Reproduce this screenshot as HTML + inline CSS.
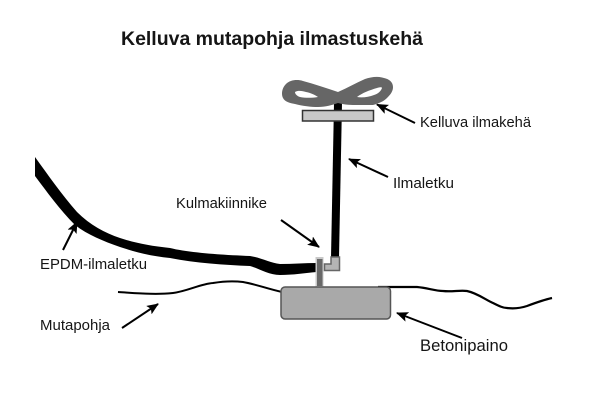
<!DOCTYPE html>
<html><head><meta charset="utf-8"><style>
html,body{margin:0;padding:0;background:#fff;width:600px;height:405px;overflow:hidden}
svg{display:block}
text{font-family:"Liberation Sans",sans-serif;fill:#151515}
</style></head><body>
<svg width="600" height="405" viewBox="0 0 600 405" xmlns="http://www.w3.org/2000/svg">
<defs><marker id="a" markerWidth="12" markerHeight="10" refX="11" refY="5" orient="auto" markerUnits="userSpaceOnUse"><path d="M0 0L12 5L0 10L2.500 5Z" fill="#000"/></marker></defs>
<text x="121" y="45" font-size="19.500" font-weight="bold" textLength="302" lengthAdjust="spacing">Kelluva mutapohja ilmastuskehä</text>
<!-- ground -->
<path d="M118 292C135 293 155 295 173 293C188 291 200 284 213 283C225 281 235 281 243 282C255 284 268 289 282 292" fill="none" stroke="#000" stroke-width="2"/>
<path d="M378 287C395 287 405 287 417 287C428 288 435 291 443 291C452 292 460 290 467 291C477 293 486 300 493 303C499 306 503 308 507 308C515 309 521 308 527 306C535 303 543 300 552 298" fill="none" stroke="#000" stroke-width="2.200"/>
<!-- vertical pipe -->
<path d="M334 103H342L339 258H331Z" fill="#000"/>
<!-- elbow -->
<path d="M339.500 257V270.500H324.500V264H331V257Z" fill="#b5b5b5" stroke="#666" stroke-width="1.500"/>
<!-- EPDM -->
<path d="M35 157C48 175 62 195 77 212C90 225 105 233 120 238C135 243 150 246 170 248C190 253 225 255 250 256C262 258 270 263 280 264C293 264 305 263 317 263V272C305 273 293 275 280 275C268 275 258 268 250 266C225 265 195 263 170 258C150 256 135 252 120 247C103 241 88 235 75 225C60 210 47 192 35 176Z" fill="#000"/>
<!-- connector -->
<rect x="315.500" y="257" width="8" height="31" fill="#c8c8c8"/>
<rect x="317" y="259" width="5.500" height="27" fill="#686868"/>
<!-- block -->
<rect x="281" y="287" width="109.500" height="32" rx="4" fill="#a9a9a9" stroke="#555" stroke-width="1.500"/>
<!-- plate -->
<rect x="302.500" y="110.500" width="71" height="10.500" fill="#c8c8c8" stroke="#333" stroke-width="1.500"/>
<!-- coil -->
<path fill="#666" fill-rule="evenodd" d="M338 92C326 88 314 84 303 81C297 79 290 80 286 84C282 88 281 94 283 98C285 102 290 103 295 104C303 106 311 107 318 107C326 107 332 105 338 103C345 105 351 105 358 105C364 105 369 105 373 105C380 103 384 101 387 98C391 94 393 91 393 87C393 82 389 79 384 78C378 76 371 77 365 79C356 83 347 88 338 92ZM295 92C298 90 303 91 306 92C311 93 315 95 318 97C312 98 305 98 300 97C297 96 295 94 295 92ZM357 97C362 93 370 90 377 88C380 87 382 87 382 88C381 91 378 94 374 95C369 97 362 98 357 97Z"/>
<!-- arrows -->
<g fill="none" stroke="#000" stroke-width="2" marker-end="url(#a)">
<line x1="415" y1="123" x2="377" y2="104.500"/>
<line x1="388" y1="177" x2="349" y2="159"/>
<line x1="281" y1="220" x2="319" y2="247"/>
<line x1="63" y1="250" x2="77" y2="222"/>
<line x1="122" y1="328" x2="158" y2="304"/>
<line x1="462" y1="338" x2="397" y2="313"/>
</g>
<!-- labels -->
<g font-size="14.500">
<text x="420" y="127" textLength="111" lengthAdjust="spacingAndGlyphs">Kelluva ilmakehä</text>
<text x="393" y="188" textLength="61" lengthAdjust="spacingAndGlyphs">Ilmaletku</text>
<text x="176" y="208" textLength="91" lengthAdjust="spacingAndGlyphs">Kulmakiinnike</text>
<text x="40" y="269" textLength="107" lengthAdjust="spacingAndGlyphs">EPDM-ilmaletku</text>
<text x="40" y="330" textLength="70" lengthAdjust="spacingAndGlyphs">Mutapohja</text>
</g>
<text x="420" y="351" font-size="16.500" textLength="88" lengthAdjust="spacingAndGlyphs">Betonipaino</text>
</svg>
</body></html>
